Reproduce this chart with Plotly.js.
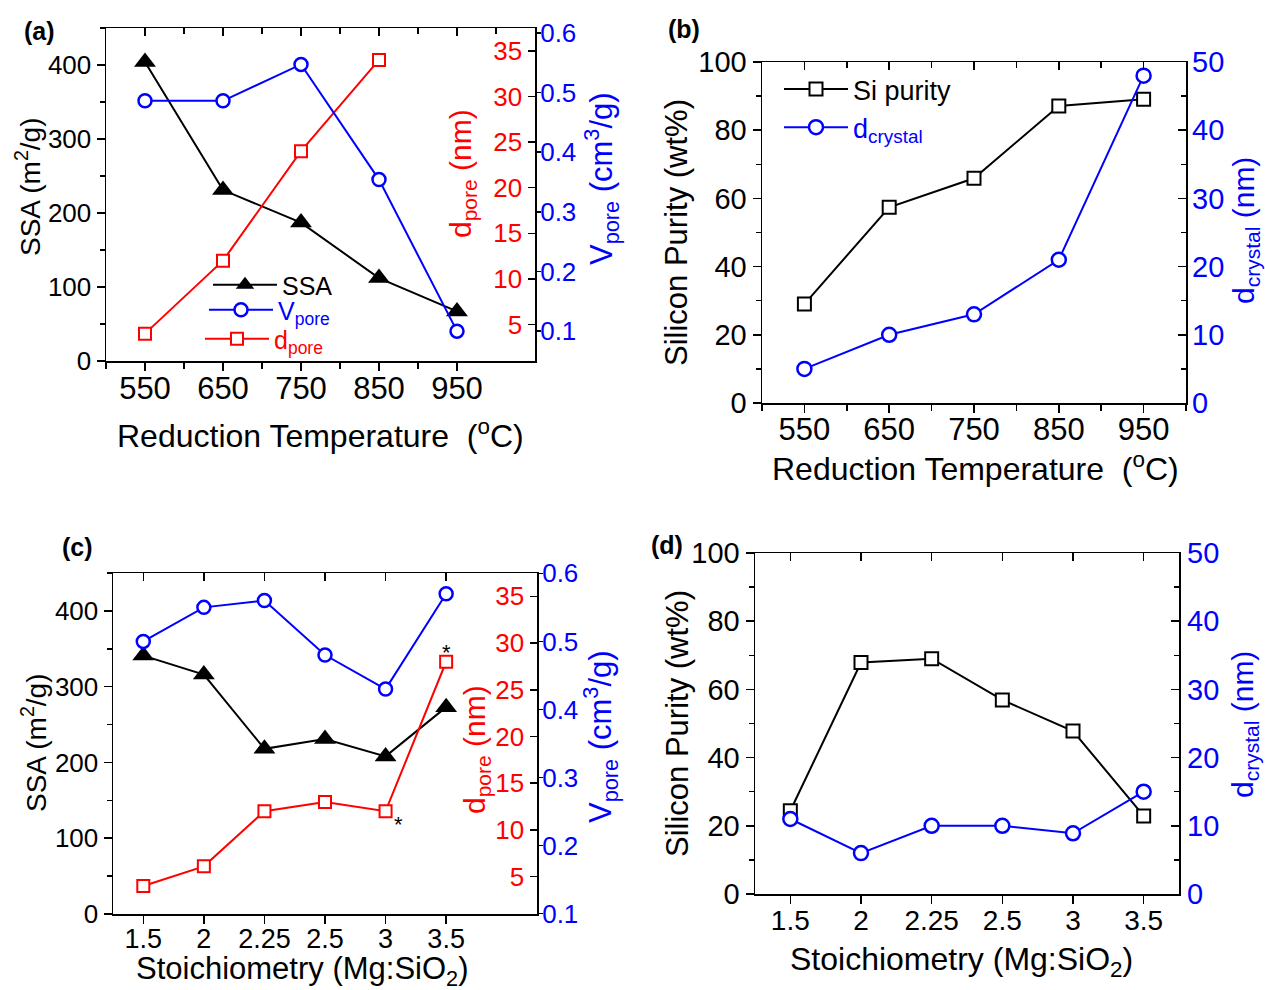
<!DOCTYPE html>
<html><head><meta charset="utf-8">
<script src="https://cdn.plot.ly/plotly-3.0.1.min.js"></script>
<style>html,body{margin:0;padding:0;background:#fff}#chart{width:1265px;height:990px}</style>
</head><body><div id="chart"></div>
<script>
// ---------------- data ----------------
const temperature = [550, 650, 750, 850, 950];
const ssaByTemp = [404, 231, 187, 112, 67];
const vporeByTemp = [0.486, 0.486, 0.547, 0.354, 0.10];
const dporeByTemp = [4.0, 12.0, 24.0, 34.0, null];
const siPurityByTemp = [29.0, 57.4, 65.9, 87.1, 89.1];
const dcrystalByTemp = [5.0, 10.0, 13.0, 21.0, 48.0];

const stoichiometry = ['1.5', '2', '2.25', '2.5', '3', '3.5'];
const ssaByStoich = [341, 316, 218, 231, 208, 273];
const vporeByStoich = [0.50, 0.55, 0.56, 0.48, 0.43, 0.57];
const dporeByStoich = [4.0, 6.1, 12.0, 13.0, 12.0, 28.0];
const dporeNotes = ['', '', '', '', '*', '*'];
const siPurityByStoich = [24.4, 67.9, 69.0, 56.9, 47.8, 22.9];
const dcrystalByStoich = [11.0, 6.0, 10.0, 10.0, 8.9, 15.0];

// ---------------- style ----------------
const FONT = 'Liberation Sans, Arial, Helvetica, sans-serif';
const BLACK = '#000000', RED = '#ff0000', BLUE = '#0000ff';
const W = 1265, H = 990;
const fx = p => p / W;
const fy = p => 1 - p / H;
const stoichIdx = stoichiometry.map((_, i) => i);

const boxA = {l: 106, r: 535, t: 28, b: 361};
const boxB = {l: 762, r: 1186, t: 62, b: 403};
const boxC = {l: 113, r: 537, t: 573, b: 914};
const boxD = {l: 755, r: 1179, t: 553, b: 894};

function ax(extra) {
  return Object.assign({
    showgrid: false, zeroline: false, fixedrange: true,
    tickcolor: BLACK, tickwidth: 1.5, linecolor: BLACK, linewidth: 1.5
  }, extra);
}
function tf(size, color) { return {family: FONT, size: size, color: color || BLACK}; }

const ssaStyle = {mode: 'lines+markers', line: {color: BLACK, width: 2},
  marker: {symbol: 'triangle-up', size: 19, color: BLACK}, cliponaxis: false};
const vStyle = {mode: 'lines+markers', line: {color: BLUE, width: 2},
  marker: {symbol: 'circle', size: 13, color: '#ffffff', line: {color: BLUE, width: 2.5}}, cliponaxis: false};
const dStyle = {mode: 'lines+markers', line: {color: RED, width: 2},
  marker: {symbol: 'square', size: 12, color: '#ffffff', line: {color: RED, width: 2}}, cliponaxis: false};
const siStyle = {mode: 'lines+markers', line: {color: BLACK, width: 2},
  marker: {symbol: 'square', size: 13, color: '#ffffff', line: {color: BLACK, width: 2}}, cliponaxis: false};
const dcStyle = {mode: 'lines+markers', line: {color: BLUE, width: 2},
  marker: {symbol: 'circle', size: 14, color: '#ffffff', line: {color: BLUE, width: 2.5}}, cliponaxis: false};

const traces = [
  // panel (a)
  Object.assign({type: 'scatter', x: temperature, y: ssaByTemp, xaxis: 'x', yaxis: 'y',
    name: 'SSA', legend: 'legend'}, ssaStyle),
  Object.assign({type: 'scatter', x: temperature, y: vporeByTemp, xaxis: 'x', yaxis: 'y3',
    name: '<span style="color:#0000ff">V<sub>pore</sub></span>', legend: 'legend3'}, vStyle),
  Object.assign({type: 'scatter', x: temperature, y: dporeByTemp, xaxis: 'x', yaxis: 'y2',
    name: '<span style="color:#ff0000">d<sub>pore</sub></span>', legend: 'legend4'}, dStyle),
  // panel (b)
  Object.assign({type: 'scatter', x: temperature, y: siPurityByTemp, xaxis: 'x3', yaxis: 'y4',
    name: 'Si purity', legend: 'legend2'}, siStyle),
  Object.assign({type: 'scatter', x: temperature, y: dcrystalByTemp, xaxis: 'x3', yaxis: 'y5',
    name: '<span style="color:#0000ff">d<sub>crystal</sub></span>', legend: 'legend2'}, dcStyle),
  // panel (c)
  Object.assign({type: 'scatter', x: stoichIdx, y: ssaByStoich, xaxis: 'x5', yaxis: 'y6',
    name: 'SSA', showlegend: false}, ssaStyle),
  Object.assign({type: 'scatter', x: stoichIdx, y: vporeByStoich, xaxis: 'x5', yaxis: 'y8',
    name: 'Vpore', showlegend: false}, vStyle),
  Object.assign({type: 'scatter', x: stoichIdx, y: dporeByStoich, xaxis: 'x5', yaxis: 'y7',
    name: 'dpore', showlegend: false}, dStyle),
  // panel (d)
  Object.assign({type: 'scatter', x: stoichIdx, y: siPurityByStoich, xaxis: 'x7', yaxis: 'y9',
    name: 'Si purity', showlegend: false}, siStyle),
  Object.assign({type: 'scatter', x: stoichIdx, y: dcrystalByStoich, xaxis: 'x7', yaxis: 'y10',
    name: 'dcrystal', showlegend: false}, dcStyle),
  // helpers so that the top tick axes exist
  {type: 'scatter', x: [], y: [], xaxis: 'x2', yaxis: 'y', showlegend: false, hoverinfo: 'skip'},
  {type: 'scatter', x: [], y: [], xaxis: 'x4', yaxis: 'y4', showlegend: false, hoverinfo: 'skip'},
  {type: 'scatter', x: [], y: [], xaxis: 'x6', yaxis: 'y6', showlegend: false, hoverinfo: 'skip'},
  {type: 'scatter', x: [], y: [], xaxis: 'x8', yaxis: 'y9', showlegend: false, hoverinfo: 'skip'}
];

function bottomX(box, anchor, range, tickvals, ticktext, fontSize, standoff, minor) {
  const a = ax({domain: [fx(box.l), fx(box.r)], anchor: anchor, range: range,
    showline: true, mirror: true, ticks: 'outside', ticklen: 8, ticklabelstandoff: standoff,
    tickmode: 'array', tickvals: tickvals, ticktext: ticktext, tickfont: tf(fontSize)});
  if (minor) a.minor = Object.assign({ticks: 'outside', ticklen: 6, tickwidth: 1.5, tickcolor: BLACK}, minor);
  return a;
}
function topX(overlay, anchor, range, tickvals, minor) {
  const a = ax({overlaying: overlay, side: 'top', anchor: anchor, range: range, showline: false,
    ticks: 'inside', ticklen: 8, tickmode: 'array', tickvals: tickvals, showticklabels: false});
  if (minor) a.minor = Object.assign({ticks: 'inside', ticklen: 6, tickwidth: 1.5, tickcolor: BLACK}, minor);
  return a;
}
function leftY(box, anchor, range, dtick, minorDtick, fontSize) {
  return ax({domain: [fy(box.b), fy(box.t)], anchor: anchor, range: range, showline: true, mirror: true,
    ticks: 'outside', ticklen: 8, tick0: 0, dtick: dtick, tickfont: tf(fontSize),
    minor: {dtick: minorDtick, tick0: 0, ticks: 'outside', ticklen: 5, tickwidth: 1.5, tickcolor: BLACK}});
}
function legendAt(x, y, size, width) {
  return {x: fx(x), y: fy(y), xanchor: 'left', yanchor: 'top', bgcolor: 'rgba(0,0,0,0)',
    borderwidth: 0, font: tf(size), itemwidth: width, tracegroupgap: 0};
}

const layout = {
  width: W, height: H, margin: {l: 0, r: 0, t: 0, b: 0},
  paper_bgcolor: '#ffffff', plot_bgcolor: 'rgba(0,0,0,0)',
  font: {family: FONT, color: BLACK}, showlegend: true,
  // panel (a)
  xaxis: bottomX(boxA, 'y', [500, 1050], temperature, temperature.map(String), 31, -9, {dtick: 100, tick0: 500}),
  xaxis2: topX('x', 'y', [500, 1050], temperature, {dtick: 100, tick0: 500}),
  yaxis: leftY(boxA, 'x', [0, 450], 100, 50, 26),
  yaxis2: ax({overlaying: 'y', side: 'right', anchor: 'x', range: [1, 37.5], tick0: 0, dtick: 5,
    ticks: 'inside', ticklen: 7, ticklabelposition: 'inside', ticklabelstandoff: 8,
    tickfont: tf(26, RED), showline: false}),
  yaxis3: ax({overlaying: 'y', side: 'right', anchor: 'x', range: [0.05, 0.608], tick0: 0, dtick: 0.1,
    ticks: 'outside', ticklen: 5, ticklabelstandoff: -6, tickfont: tf(26, BLUE), showline: false}),
  // panel (b)
  xaxis3: bottomX(boxB, 'y4', [500, 1000], temperature, temperature.map(String), 31, -10, {dtick: 100, tick0: 500}),
  xaxis4: topX('x3', 'y4', [500, 1000], temperature, {dtick: 100, tick0: 500}),
  yaxis4: leftY(boxB, 'x3', [0, 100], 20, 10, 29),
  yaxis5: ax({overlaying: 'y4', side: 'right', anchor: 'x3', range: [0, 50], tick0: 0, dtick: 10,
    ticks: 'inside', ticklen: 8, ticklabelstandoff: 5, tickfont: tf(29, BLUE), showline: false,
    minor: {dtick: 5, tick0: 0, ticks: 'inside', ticklen: 5, tickwidth: 1.5, tickcolor: BLACK}}),
  // panel (c)
  xaxis5: bottomX(boxC, 'y6', [-0.5, 6.5], stoichIdx, stoichiometry, 27, -8, null),
  xaxis6: topX('x5', 'y6', [-0.5, 6.5], stoichIdx, null),
  yaxis6: leftY(boxC, 'x5', [0, 450], 100, 50, 26),
  yaxis7: ax({overlaying: 'y6', side: 'right', anchor: 'x5', range: [1, 37.5], tick0: 0, dtick: 5,
    ticks: 'inside', ticklen: 7, ticklabelposition: 'inside', ticklabelstandoff: 8,
    tickfont: tf(26, RED), showline: false}),
  yaxis8: ax({overlaying: 'y6', side: 'right', anchor: 'x5', range: [0.0995, 0.6005], tick0: 0, dtick: 0.1,
    ticks: 'outside', ticklen: 5, ticklabelstandoff: -6, tickfont: tf(26, BLUE), showline: false}),
  // panel (d)
  xaxis7: bottomX(boxD, 'y9', [-0.5, 5.5], stoichIdx, stoichiometry, 28, -7, null),
  xaxis8: topX('x7', 'y9', [-0.5, 5.5], stoichIdx, null),
  yaxis9: leftY(boxD, 'x7', [0, 100], 20, 10, 29),
  yaxis10: ax({overlaying: 'y9', side: 'right', anchor: 'x7', range: [0, 50], tick0: 0, dtick: 10,
    ticks: 'inside', ticklen: 8, ticklabelstandoff: 7, tickfont: tf(29, BLUE), showline: false,
    minor: {dtick: 5, tick0: 0, ticks: 'inside', ticklen: 5, tickwidth: 1.5, tickcolor: BLACK}}),
  legend: legendAt(208, 262, 25, 64),
  legend3: legendAt(204, 287, 25, 64),
  legend4: legendAt(200, 316, 25, 64),
  legend2: legendAt(779, 65, 27, 64),
  annotations: []
};

// axis titles and panel labels (positions in page pixels)
const textItems = [
  {t: '<b>(a)</b>', x: 39, y: 31, s: 25},
  {t: '<b>(b)</b>', x: 684, y: 29, s: 25},
  {t: '<b>(c)</b>', x: 77, y: 547, s: 25},
  {t: '<b>(d)</b>', x: 667, y: 545, s: 25},
  {t: 'SSA (m<sup>2</sup>/g)', x: 28, y: 187, s: 28, a: -90},
  {t: 'Reduction Temperature\u00a0 (<sup>o</sup>C)', x: 320, y: 434, s: 32},
  {t: 'd<sub>pore</sub> (nm)', x: 462, y: 174, s: 30, a: -90, c: RED},
  {t: 'V<sub>pore</sub> (cm<sup>3</sup>/g)', x: 602, y: 179, s: 31, a: -90, c: BLUE},
  {t: 'Silicon Purity (wt%)', x: 677, y: 233, s: 31, a: -90},
  {t: 'Reduction Temperature\u00a0 (<sup>o</sup>C)', x: 975, y: 467, s: 32},
  {t: 'd<sub>crystal</sub> (nm)', x: 1245, y: 231, s: 30, a: -90, c: BLUE},
  {t: 'SSA (m<sup>2</sup>/g)', x: 34, y: 743, s: 28, a: -90},
  {t: 'Stoichiometry (Mg:SiO<sub>2</sub>)', x: 302, y: 971, s: 31},
  {t: 'd<sub>pore</sub> (nm)', x: 476, y: 750, s: 30, a: -90, c: RED},
  {t: 'V<sub>pore</sub> (cm<sup>3</sup>/g)', x: 600, y: 737, s: 31, a: -90, c: BLUE},
  {t: 'Silicon Purity (wt%)', x: 677, y: 724, s: 31, a: -90},
  {t: 'Stoichiometry (Mg:SiO<sub>2</sub>)', x: 961, y: 961, s: 32},
  {t: 'd<sub>crystal</sub> (nm)', x: 1244, y: 725, s: 30, a: -90, c: BLUE}
];
textItems.forEach(o => layout.annotations.push({
  text: o.t, xref: 'paper', yref: 'paper', x: fx(o.x), y: fy(o.y),
  xanchor: 'center', yanchor: 'middle', showarrow: false, textangle: o.a || 0,
  font: tf(o.s, o.c || BLACK)
}));

// asterisk notes next to d_pore points in panel (c)
const noteShift = {4: [13, -13], 5: [0, 9]};
dporeNotes.forEach((n, i) => {
  if (!n) return;
  const sh = noteShift[i] || [0, 10];
  layout.annotations.push({text: n, xref: 'x5', yref: 'y7', x: stoichIdx[i], y: dporeByStoich[i],
    xshift: sh[0], yshift: sh[1], showarrow: false, font: tf(22, BLACK)});
});

Plotly.newPlot('chart', traces, layout, {staticPlot: true, displayModeBar: false});
</script>
</body></html>
